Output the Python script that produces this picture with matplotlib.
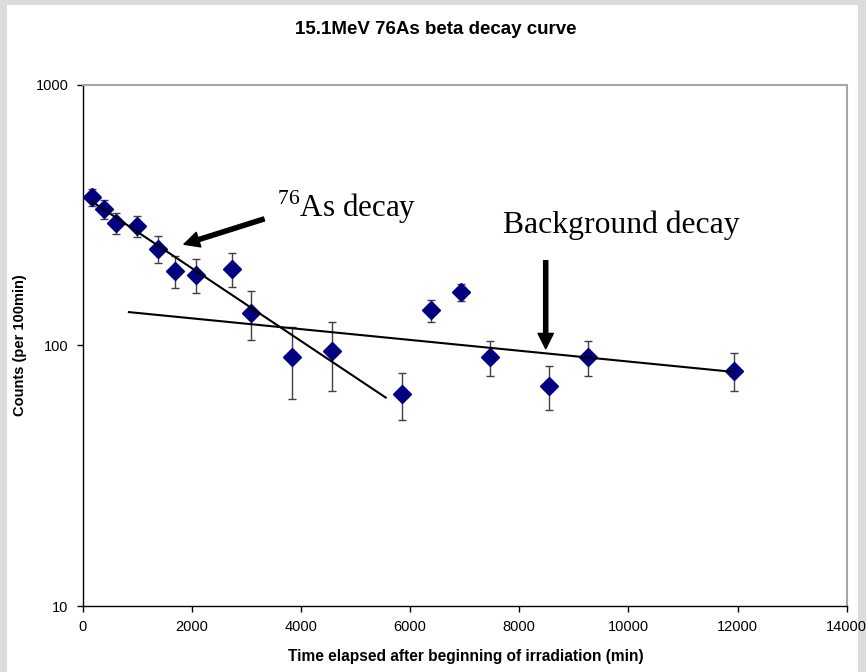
import numpy as np
import matplotlib
matplotlib.use("Agg")
import matplotlib.pyplot as plt
from matplotlib.patches import Rectangle
from matplotlib.ticker import FixedLocator, FuncFormatter

plt.rcParams['font.family'] = ['Liberation Sans', 'DejaVu Sans']
plt.rcParams['mathtext.fontset'] = 'custom'
plt.rcParams['mathtext.rm'] = 'Liberation Serif'

# measured counts (per 100 min) vs time after start of irradiation
time_min = [180, 400, 615, 1005, 1380, 1690, 2080, 2740, 3090,
            3830, 4565, 5860, 6390, 6935, 7465, 8540, 9255, 11930]
counts = [371, 332, 294, 287, 234, 193, 186, 196, 133,
          90, 95, 65, 136, 160, 90, 70, 90, 80]
count_err = [28, 28, 28, 27, 28, 27, 28, 29, 28,
             28, 28, 13.5, 13, 12, 13.5, 13.5, 13.5, 13.5]

# fitted decay lines (end points)
as_fit_t = [180, 5555]
as_fit_counts = [355, 63]
bg_fit_t = [850, 11930]
bg_fit_counts = [134, 79]

x_ticks = [0, 2000, 4000, 6000, 8000, 10000, 12000, 14000]
y_ticks = [10, 100, 1000]

fig = plt.figure(figsize=(8.66, 6.72), dpi=100)
fig.patch.set_facecolor('#dcdcdc')
fig.patches.append(Rectangle((7 / 866, 0), (858 - 7) / 866, 1 - 5 / 672,
                             transform=fig.transFigure, facecolor='white',
                             edgecolor='none', zorder=-10))

ax = fig.add_axes([82.5 / 866, 66 / 672, 764.2 / 866, 521.5 / 672])
ax.set_facecolor('white')

ax.errorbar(time_min, counts, yerr=count_err, fmt='none', ecolor='#404040',
            elinewidth=1, capsize=3.2, capthick=1, zorder=2)
ax.plot(time_min, counts, linestyle='none', marker='D', markersize=8.8,
        color='#000080', zorder=3)

ax.plot(as_fit_t, as_fit_counts, color='black', lw=1.5, zorder=4)
ax.plot(bg_fit_t, bg_fit_counts, color='black', lw=1.5, zorder=4)

ax.set_yscale('log')
ax.set_xlim(0, 14000)
ax.set_ylim(10, 1000)
ax.xaxis.set_major_locator(FixedLocator(x_ticks))
ax.yaxis.set_major_locator(FixedLocator(y_ticks))
ax.yaxis.set_minor_locator(FixedLocator([]))
ax.yaxis.set_major_formatter(FuncFormatter(lambda v, p: '%d' % v))
ax.tick_params(direction='out', length=4, width=1, labelsize=10.5, pad=6)

for s in ['left', 'bottom']:
    ax.spines[s].set_color('black')
    ax.spines[s].set_linewidth(1)
for s in ['top', 'right']:
    ax.spines[s].set_color('#a6a6a6')
    ax.spines[s].set_linewidth(1.5)

# annotations
arrow_kw = dict(facecolor='black', edgecolor='black', width=3, headwidth=11,
                headlength=11, shrink=0)
ax.annotate('', xy=(1859, 244), xytext=(3325, 305), arrowprops=arrow_kw)
ax.annotate('', xy=(8486, 97), xytext=(8486, 211), arrowprops=arrow_kw)
ax.text(3558, 311, r'$^{76}$As decay', family='Liberation Serif', fontsize=22.3,
        ha='left', va='baseline')
ax.text(7698, 269, 'Background decay', family='Liberation Serif', fontsize=22.8,
        ha='left', va='baseline')

fig.text(436 / 866, 1 - 30 / 672, '15.1MeV 76As beta decay curve',
         fontsize=13.5, fontweight='bold', ha='center', va='center')
fig.text(466 / 866, 1 - 657 / 672,
         'Time elapsed after beginning of irradiation (min)',
         fontsize=11.2, fontweight='bold', ha='center', va='center')
fig.text(20 / 866, 1 - 345 / 672, 'Counts (per 100min)', fontsize=10.5,
         fontweight='bold', ha='center', va='center', rotation=90)

fig.savefig('out.png', dpi=100, facecolor=fig.get_facecolor())
